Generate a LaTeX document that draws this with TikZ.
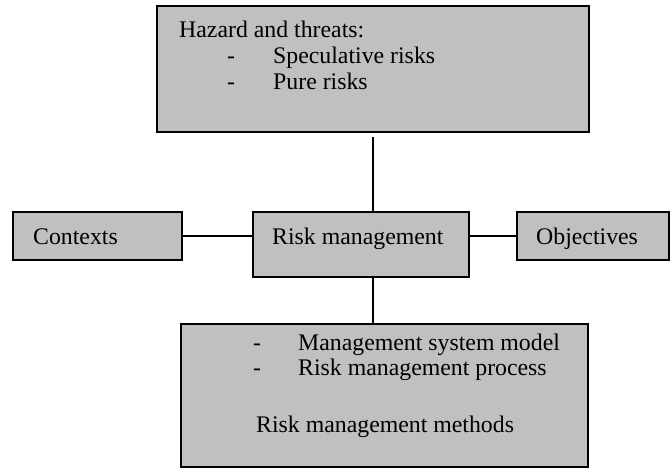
\documentclass[tikz,border=0pt]{standalone}
\usepackage{fontspec}
\setmainfont{Liberation Serif}
\definecolor{boxgray}{HTML}{C0C0C0}
\begin{document}
\begin{tikzpicture}[x=1pt,y=-1pt,
  box/.style={draw=black, line width=2pt, fill=boxgray, inner sep=0pt},
  lbl/.style={anchor=base west, inner sep=0pt, font=\fontsize{23.8}{26}\selectfont},
  link/.style={line width=2pt}]
\useasboundingbox (0,0) rectangle (671,468);
% boxes
\node[box, minimum width=432pt, minimum height=126pt] (top) at (373,69) {};
\node[box, minimum width=169pt, minimum height=48pt] (ctx) at (97.5,236) {};
\node[box, minimum width=216pt, minimum height=65pt] (rm) at (361,244.5) {};
\node[box, minimum width=152pt, minimum height=48pt] (obj) at (593,236) {};
\node[box, minimum width=407pt, minimum height=143pt] (bot) at (384.5,395.5) {};
% labels
\node[lbl] (t1) at (179,38) {Hazard and threats:};
\node[lbl] (t2d) at (227,64) {-};
\node[lbl] (t2) at (273,64) {Speculative risks};
\node[lbl] (t3d) at (227,90) {-};
\node[lbl] (t3) at (273,90) {Pure risks};
\node[lbl] (c1) at (33,244) {Contexts};
\node[lbl] (r1) at (272,244) {Risk management};
\node[lbl] (o1) at (536,244) {Objectives};
\node[lbl] (b1d) at (253,350) {-};
\node[lbl] (b1) at (298,350) {Management system model};
\node[lbl] (b2d) at (253,375) {-};
\node[lbl] (b2) at (298,375) {Risk management process};
\node[lbl] (b3) at (256,432) {Risk management methods};
% connectors
\coordinate (vx) at (373,0);
\coordinate (hy) at (0,236);
\coordinate (tgap) at (373,137);
\draw[link] (tgap) -- (rm.north -| vx);
\draw[link] (rm.south -| vx) -- (bot.north -| vx);
\draw[link] (ctx.east |- hy) -- (rm.west |- hy);
\draw[link] (rm.east |- hy) -- (obj.west |- hy);
\end{tikzpicture}
\end{document}
